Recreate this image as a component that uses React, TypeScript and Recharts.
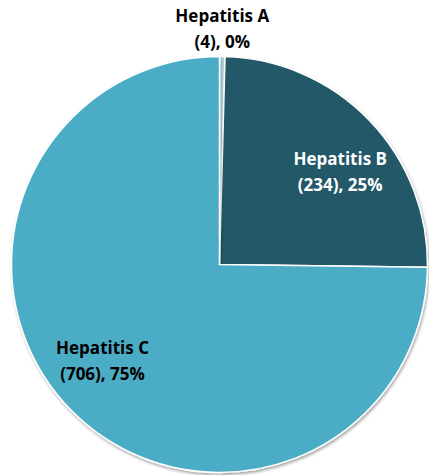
import { PieChart, Pie, Cell } from 'recharts';

const categories = ['Hepatitis A', 'Hepatitis B', 'Hepatitis C'];
const cases = [4, 234, 706];
const colors = ['#b7dee8', '#215968', '#4bacc6'];
const labelColors = ['#000000', '#ffffff', '#000000'];

const data = categories.map((name, i) => ({ name, value: cases[i] }));

const RADIAN = Math.PI / 180;
// small angle nudges so the inside labels land where Excel puts them
const labelShift = [0, -6.5, -5];

const renderLabel = (props) => {
  const { cx, cy, midAngle, outerRadius, percent, index, name, value } = props;
  const pct = `(${value}), ${Math.round(percent * 100)}%`;
  let x;
  let base;
  if (percent < 0.02) {
    // tiny slice: label sits above the pie
    x = cx + outerRadius * Math.cos(-midAngle * RADIAN);
    base = cy - outerRadius - 35;
  } else {
    const a = -(midAngle + labelShift[index]) * RADIAN;
    const r = outerRadius * 0.73;
    x = cx + r * Math.cos(a);
    base = cy + r * Math.sin(a) - 7;
  }
  return (
    <text
      x={x}
      y={base}
      fill={labelColors[index]}
      textAnchor="middle"
      fontFamily="'Open Sans', sans-serif"
      fontWeight="bold"
      fontSize={17}
    >
      <tspan x={x} y={base}>{name}</tspan>
      <tspan x={x} y={base + 26}>{pct}</tspan>
    </text>
  );
};

export default function App() {
  return (
    <div style={{ position: 'absolute', left: 0, top: 0, width: 429, height: 475, background: '#fff' }}>
      <PieChart width={429} height={475}>
        <defs>
          <filter id="pieShadow" x="-10%" y="-10%" width="120%" height="120%">
            <feDropShadow dx="1" dy="2" stdDeviation="1.5" floodColor="#000" floodOpacity="0.35" />
          </filter>
        </defs>
        <Pie
          data={data}
          dataKey="value"
          nameKey="name"
          cx={214.5}
          cy={259.5}
          outerRadius={208}
          startAngle={90}
          endAngle={-270}
          stroke="#ffffff"
          strokeWidth={1.5}
          label={renderLabel}
          labelLine={false}
          isAnimationActive={false}
          style={{ filter: 'url(#pieShadow)' }}
        >
          {data.map((d, i) => (
            <Cell key={d.name} fill={colors[i]} />
          ))}
        </Pie>
      </PieChart>
    </div>
  );
}
